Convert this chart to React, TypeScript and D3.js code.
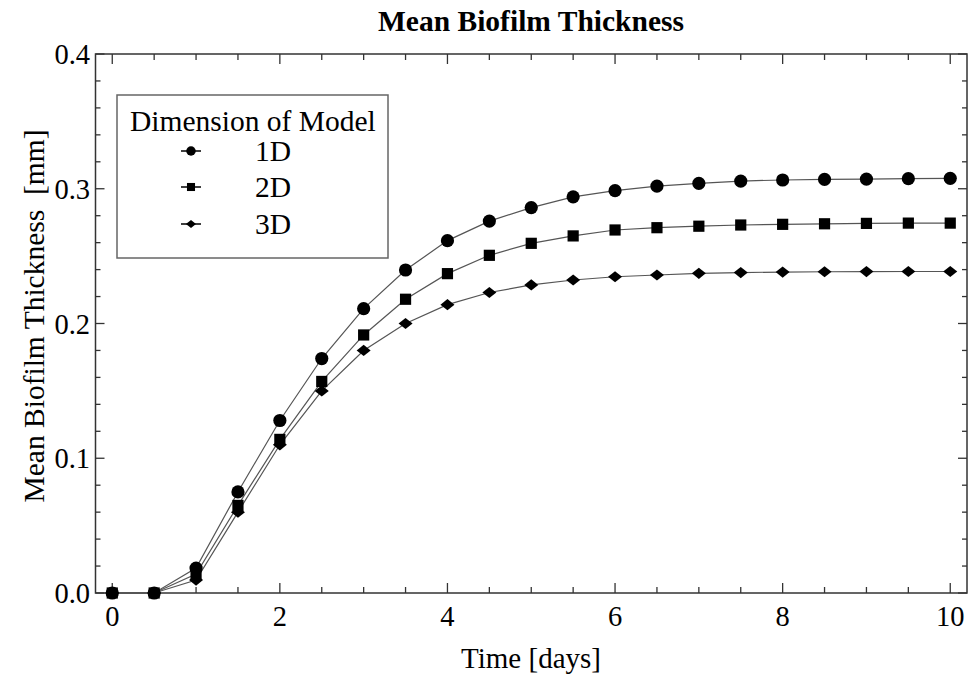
import React from "react";
import * as d3 from "d3";

const times = [0, 0.5, 1, 1.5, 2, 2.5, 3, 3.5, 4, 4.5, 5, 5.5, 6, 6.5, 7, 7.5, 8, 8.5, 9, 9.5, 10];
const series1D = [0, 0, 0.0185, 0.075, 0.128, 0.174, 0.211, 0.2397, 0.2615, 0.276, 0.286, 0.294, 0.2986, 0.302, 0.304, 0.3057, 0.3065, 0.307, 0.3072, 0.3075, 0.3077];
const series2D = [0, 0, 0.014, 0.065, 0.114, 0.157, 0.1915, 0.218, 0.237, 0.2506, 0.2595, 0.265, 0.2694, 0.2711, 0.2722, 0.2731, 0.2736, 0.274, 0.2743, 0.2745, 0.2745];
const series3D = [0, 0, 0.0096, 0.06, 0.11, 0.15, 0.18, 0.2, 0.214, 0.223, 0.2286, 0.2323, 0.2347, 0.236, 0.2372, 0.2378, 0.2382, 0.2384, 0.2385, 0.2386, 0.2386];
const seriesNames = ["1D", "2D", "3D"];
const xMajorTicks = [0, 2, 4, 6, 8, 10];
const yMajorTicks = [0, 0.1, 0.2, 0.3, 0.4];
const yTickLabels = ["0.0", "0.1", "0.2", "0.3", "0.4"];

const W = 969;
const H = 679;
const FONT = "'Liberation Serif', 'Times New Roman', serif";

type Shape = "circle" | "square" | "diamond";
const shapes: Shape[] = ["circle", "square", "diamond"];

function Marker({ shape, x, y, s }: { shape: Shape; x: number; y: number; s: number }) {
  if (shape === "circle") return <circle cx={x} cy={y} r={6.6 * s} fill="#000" />;
  if (shape === "square") {
    const h = 5.6 * s;
    return <rect x={x - h} y={y - h} width={2 * h} height={2 * h} fill="#000" />;
  }
  const w = 7 * s, hh = 5.6 * s;
  return <path d={`M${x},${y - hh}L${x + w},${y}L${x},${y + hh}L${x - w},${y}Z`} fill="#000" />;
}

export default function App() {
  const x = d3.scaleLinear().domain([-0.2, 10.2]).range([95.5, 967]);
  const y = d3.scaleLinear().domain([0, 0.4]).range([593, 54]);
  const data = [series1D, series2D, series3D];
  const line = d3
    .line<number>()
    .x((_, i) => x(times[i]))
    .y((d) => y(d));

  const xMinor = d3.range(0, 10.01, 0.5).filter((v) => !xMajorTicks.includes(v));
  const yMinor = d3.range(0, 0.4001, 0.02).map((v) => +v.toFixed(2)).filter((v) => !yMajorTicks.some((m) => Math.abs(m - v) < 1e-6));

  const [x0, x1] = x.range();
  const [yb, yt] = y.range();
  const tickColor = "#333";

  return (
    <svg width={W} height={H} style={{ position: "absolute", left: 0, top: 0, background: "#fff" }} fontFamily={FONT}>
      <text x={531} y={31} textAnchor="middle" fontSize={29.5} fontWeight="bold" fill="#000">
        Mean Biofilm Thickness
      </text>

      {/* ticks */}
      <g stroke={tickColor} strokeWidth={1.3}>
        {xMajorTicks.map((t) => (
          <g key={"xm" + t}>
            <line x1={x(t)} x2={x(t)} y1={yb} y2={yb - 10} />
            <line x1={x(t)} x2={x(t)} y1={yt} y2={yt + 10} />
          </g>
        ))}
        {xMinor.map((t) => (
          <g key={"xn" + t}>
            <line x1={x(t)} x2={x(t)} y1={yb} y2={yb - 6} />
            <line x1={x(t)} x2={x(t)} y1={yt} y2={yt + 6} />
          </g>
        ))}
        {yMajorTicks.map((t) => (
          <g key={"ym" + t}>
            <line x1={x0} x2={x0 + 9} y1={y(t)} y2={y(t)} />
            <line x1={x1} x2={x1 - 9} y1={y(t)} y2={y(t)} />
          </g>
        ))}
        {yMinor.map((t) => (
          <g key={"yn" + t}>
            <line x1={x0} x2={x0 + 5} y1={y(t)} y2={y(t)} />
            <line x1={x1} x2={x1 - 5} y1={y(t)} y2={y(t)} />
          </g>
        ))}
      </g>

      {/* frame */}
      <rect x={x0} y={yt} width={x1 - x0} height={yb - yt} fill="none" stroke="#333" strokeWidth={1.5} />

      {/* tick labels */}
      {xMajorTicks.map((t) => (
        <text key={"xl" + t} x={x(t)} y={626} textAnchor="middle" fontSize={28.5} fill="#000">
          {t}
        </text>
      ))}
      {yMajorTicks.map((t, i) => (
        <text key={"yl" + t} x={90} y={y(t) + 10} textAnchor="end" fontSize={28.5} fill="#000">
          {yTickLabels[i]}
        </text>
      ))}

      {/* axis labels */}
      <text x={531} y={668} textAnchor="middle" fontSize={29} fill="#000">
        Time [days]
      </text>
      <text
        transform={`translate(44,316) rotate(-90)`}
        textAnchor="middle"
        fontSize={29.5}
        fill="#000"
        style={{ whiteSpace: "pre" }}
      >
        {"Mean Biofilm Thickness  [mm]"}
      </text>

      {/* legend */}
      <rect x={117} y={95} width={271} height={163} fill="#fff" stroke="#666" strokeWidth={1.5} />
      <text x={130} y={131} fontSize={29.5} fill="#000">
        Dimension of Model
      </text>
      {seriesNames.map((n, i) => {
        const cy = [151, 187, 224][i];
        return (
          <g key={"lg" + n}>
            <line x1={181} x2={201} y1={cy} y2={cy} stroke="#000" strokeWidth={1.5} />
            <Marker shape={shapes[i]} x={191} y={cy} s={0.72} />
            <text x={255} y={cy + 10} fontSize={29.5} fill="#000">
              {n}
            </text>
          </g>
        );
      })}

      {/* series lines */}
      {data.map((d, i) => (
        <path key={"ln" + i} d={line(d) || ""} fill="none" stroke="#555" strokeWidth={1.2} />
      ))}
      {/* markers */}
      {data.map((d, i) =>
        d.map((v, j) => <Marker key={`m${i}-${j}`} shape={shapes[i]} x={x(times[j])} y={y(v)} s={1} />)
      )}
    </svg>
  );
}
